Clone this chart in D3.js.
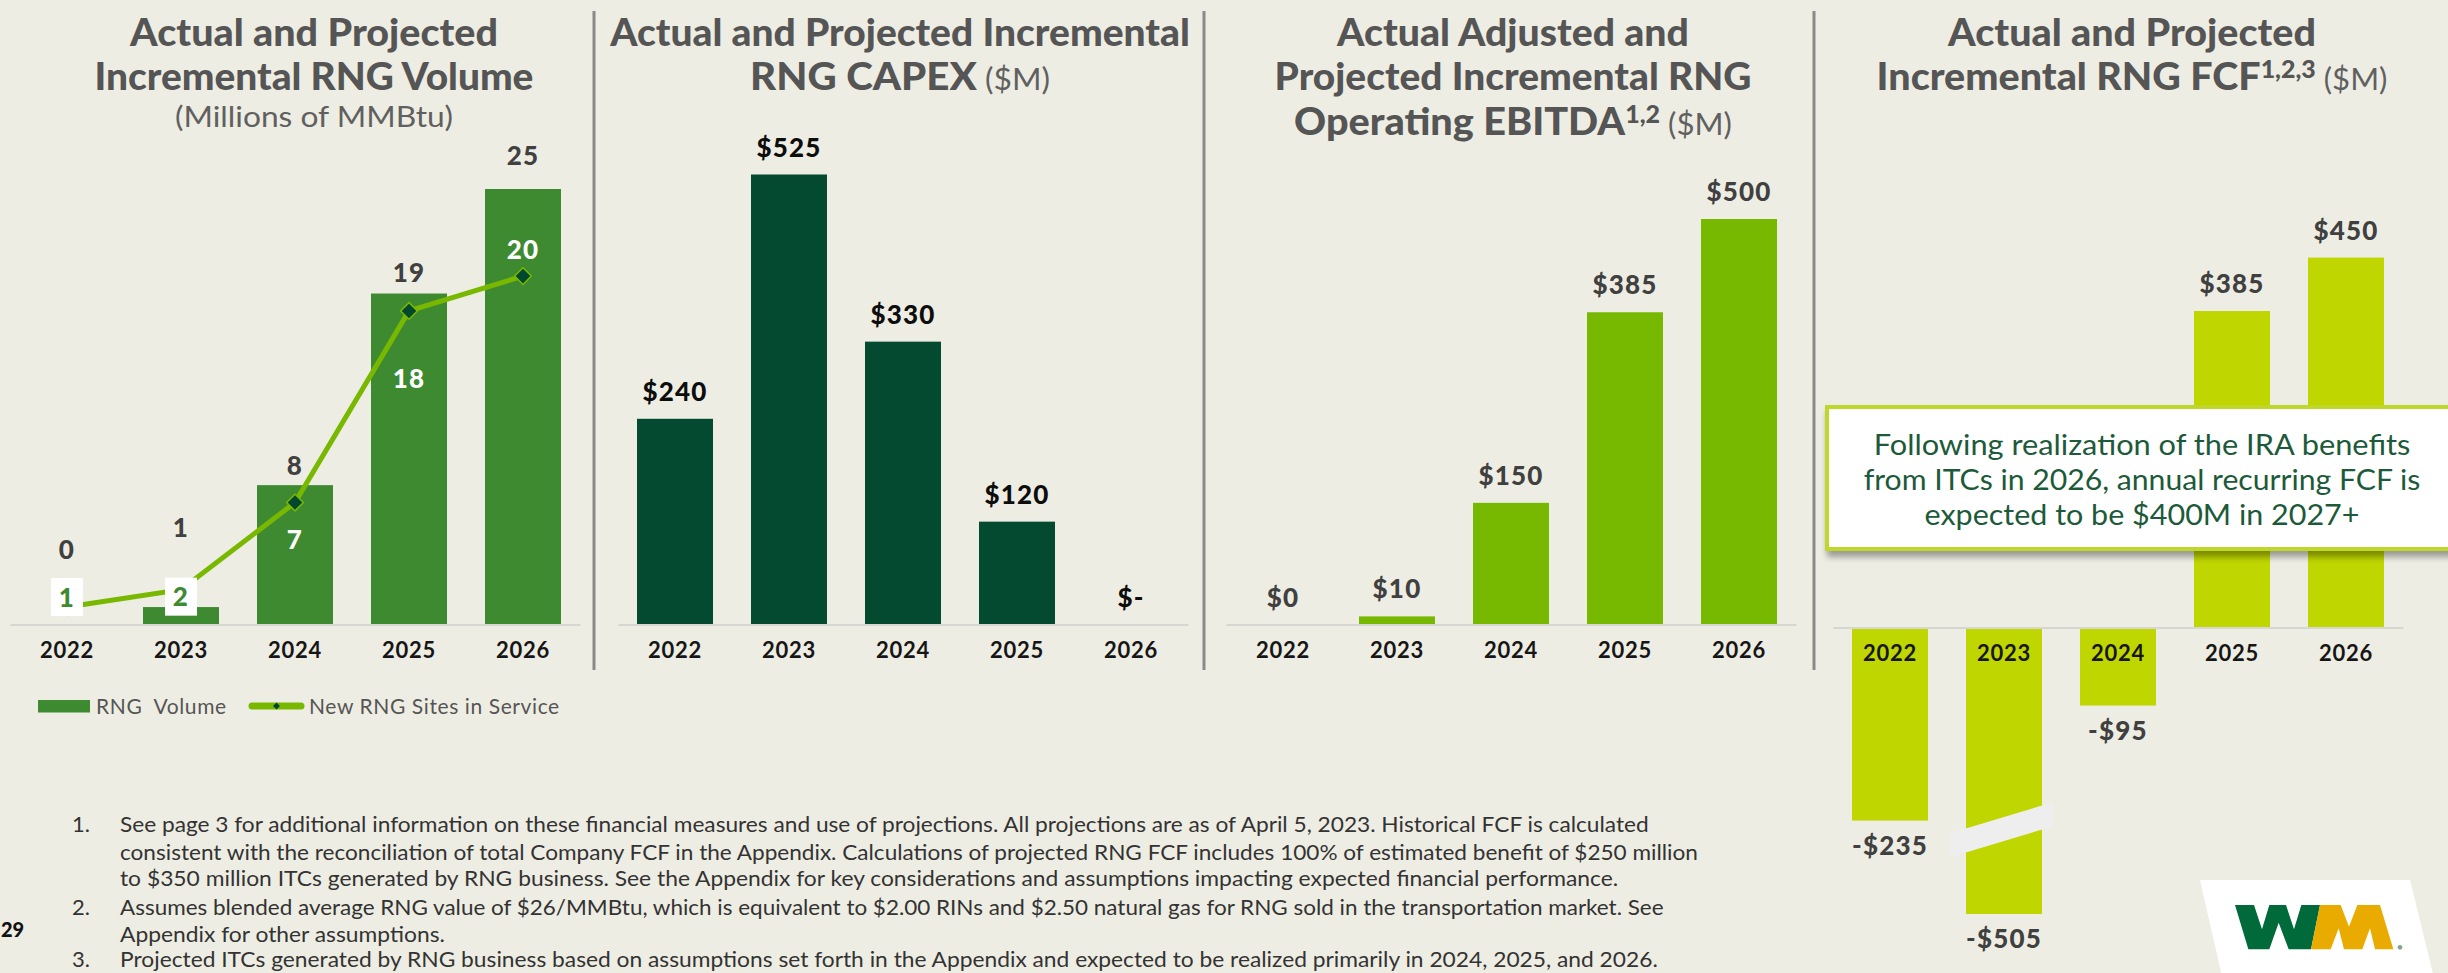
<!DOCTYPE html>
<html>
<head>
<meta charset="utf-8">
<script src="https://cdn.jsdelivr.net/npm/d3@7"></script>
<style>
  html, body { margin: 0; padding: 0; background: #eeede3; }
  svg { display: block; font-family: Lato, "Open Sans", sans-serif; }
</style>
</head>
<body>
<svg id="chart" width="2448" height="973"></svg>
<script>
// ---- data ----
const years = ['2022', '2023', '2024', '2025', '2026'];
const rngVolume = [0, 1, 8, 19, 25];        // millions of MMBtu
const newSites = [1, 2, 7, 18, 20];         // new RNG sites in service
const capex = [240, 525, 330, 120, 0];      // $M
const ebitda = [0, 10, 150, 385, 500];      // $M
const fcf = [-235, -505, -95, 385, 450];    // $M
const legendLabels = ['RNG  Volume', 'New RNG Sites in Service'];
const calloutLines = [
  'Following realization of the IRA benefits',
  'from ITCs in 2026, annual recurring FCF is',
  'expected to be $400M in 2027+'
];
const footnotes = [
  ['See page 3 for additional information on these financial measures and use of projections. All projections are as of April 5, 2023. Historical FCF is calculated',
   'consistent with the reconciliation of total Company FCF in the Appendix. Calculations of projected RNG FCF includes 100% of estimated benefit of $250 million',
   'to $350 million ITCs generated by RNG business. See the Appendix for key considerations and assumptions impacting expected financial performance.'],
  ['Assumes blended average RNG value of $26/MMBtu, which is equivalent to $2.00 RINs and $2.50 natural gas for RNG sold in the transportation market. See',
   'Appendix for other assumptions.'],
  ['Projected ITCs generated by RNG business based on assumptions set forth in the Appendix and expected to be realized primarily in 2024, 2025, and 2026.']
];

const svg = d3.select('#chart');
const defs = svg.append('defs');
const shadow = defs.append('filter').attr('id', 'shadow')
  .attr('x', '-5%').attr('y', '-10%').attr('width', '115%').attr('height', '140%');
shadow.append('feDropShadow').attr('dx', 2).attr('dy', 6).attr('stdDeviation', 3)
  .attr('flood-color', '#000').attr('flood-opacity', 0.35);

// squeeze / stretch a line of text to the width it has on the slide
function fit(g, text, x, y, w) {
  const bw = text.node().getBBox().width;
  g.attr('transform', `translate(${x},${y}) scale(${w / bw},1)`);
}

const money = v => (v < 0 ? '-$' : '$') + Math.abs(v);

// ---- panel titles ----
function drawTitle(cx, lines) {
  lines.forEach(l => {
    const g = svg.append('g');
    const t = g.append('text').attr('text-anchor', 'middle');
    let raised = false;
    l.parts.forEach(([kind, str]) => {
      const ts = t.append('tspan').text(str);
      if (kind === 'b') ts.attr('font-weight', 900).attr('font-size', 38).attr('fill', '#555555');
      if (kind === 'u') ts.attr('font-weight', 400).attr('font-size', l.unitSize || 30).attr('fill', '#606060');
      if (kind === 's') { ts.attr('font-weight', 900).attr('font-size', 24).attr('fill', '#555555').attr('dy', -12); raised = true; }
      else if (raised) { ts.attr('dy', 12); raised = false; }
    });
    t.selectAll('tspan').style('white-space', 'pre');
    fit(g, t, cx, l.y, l.w);
  });
}

drawTitle(314, [
  { y: 46, w: 369, parts: [['b', 'Actual and Projected']] },
  { y: 90, w: 439, parts: [['b', 'Incremental RNG Volume']] },
  { y: 127, w: 278, unitSize: 28, parts: [['u', '(Millions of MMBtu)']] }
]);
drawTitle(900, [
  { y: 46, w: 581, parts: [['b', 'Actual and Projected Incremental']] },
  { y: 90, w: 300, parts: [['b', 'RNG CAPEX'], ['u', ' ($M)']] }
]);
drawTitle(1513, [
  { y: 46, w: 353, parts: [['b', 'Actual Adjusted and']] },
  { y: 90, w: 477, parts: [['b', 'Projected Incremental RNG']] },
  { y: 135, w: 438, parts: [['b', 'Operating EBITDA'], ['s', '1,2'], ['u', ' ($M)']] }
]);
drawTitle(2132, [
  { y: 46, w: 369, parts: [['b', 'Actual and Projected']] },
  { y: 90, w: 511, parts: [['b', 'Incremental RNG FCF'], ['s', '1,2,3'], ['u', ' ($M)']] }
]);

// ---- panel separators ----
svg.append('g').selectAll('line').data([594, 1204, 1814]).join('line')
  .attr('x1', d => d).attr('x2', d => d).attr('y1', 11).attr('y2', 670)
  .attr('stroke', '#8a8a8a').attr('stroke-width', 3);

// ---- generic bar panel ----
function barPanel(o) {
  const x = d3.scaleBand().domain(years).range(o.xr).paddingInner(1 / 3).paddingOuter(1 / 6);
  const y = o.y;
  const g = svg.append('g');
  g.append('g').selectAll('rect').data(o.values).join('rect')
    .attr('x', (d, i) => x(years[i]))
    .attr('width', x.bandwidth())
    .attr('y', d => Math.min(y(d), y(0)))
    .attr('height', d => Math.abs(y(d) - y(0)))
    .attr('fill', o.color);

  const ax = g.append('g').attr('transform', `translate(0,${y(0)})`)
    .call(d3.axisBottom(x).tickSize(0).tickSizeOuter(0).tickPadding(18));
  ax.select('.domain').attr('stroke', '#d6d6d2').attr('stroke-width', 2);
  ax.selectAll('text').attr('font-family', 'Lato, sans-serif').attr('font-size', 22)
    .attr('font-weight', 700).attr('letter-spacing', 0.8).attr('fill', '#161616');

  if (o.label) {
    g.append('g').selectAll('text').data(o.values).join('text')
      .attr('x', (d, i) => x(years[i]) + x.bandwidth() / 2)
      .attr('y', d => d < 0 ? y(d) + 25 + 9 : y(d) - 27 + 9)
      .attr('text-anchor', 'middle').attr('font-size', 26).attr('font-weight', 900)
      .attr('letter-spacing', 1.2).attr('fill', o.labelColor)
      .text(o.label);
  }
  return { x, y, g };
}

// ---- panel 1: RNG volume + new sites ----
const volGap = [75, 79, 19, 21, 33];        // label lift above each bar
const siteDy = [-10, 7, 37, 68, -27];       // site label offset from line point
const p1 = barPanel({
  xr: [10, 580], values: rngVolume, color: '#3d8a31',
  y: d3.scaleLinear().domain([0, 25]).range([624.5, 189])
});
const cx1 = i => p1.x(years[i]) + p1.x.bandwidth() / 2;
p1.g.append('g').selectAll('text').data(rngVolume).join('text')
  .attr('x', (d, i) => cx1(i)).attr('y', (d, i) => p1.y(d) - volGap[i] + 9)
  .attr('text-anchor', 'middle').attr('font-size', 26).attr('font-weight', 900)
  .attr('letter-spacing', 1.2).attr('fill', '#404040').text(d => d);

const line = d3.line().x((d, i) => cx1(i)).y(d => p1.y(d));
p1.g.append('path').datum(newSites).attr('d', line)
  .attr('fill', 'none').attr('stroke', '#78b800').attr('stroke-width', 5);
p1.g.append('g').selectAll('path').data(newSites).join('path')
  .attr('d', d3.symbol(d3.symbolSquare, 140))
  .attr('transform', (d, i) => `translate(${cx1(i)},${p1.y(d)}) rotate(45)`)
  .attr('fill', '#02482f').attr('stroke', '#78b800').attr('stroke-width', 1.5);
const siteLab = p1.g.append('g').selectAll('g').data(newSites).join('g')
  .attr('transform', (d, i) => `translate(${cx1(i)},${p1.y(d) + siteDy[i]})`);
siteLab.filter((d, i) => d > rngVolume[i]).append('rect')
  .attr('x', -16).attr('y', -19).attr('width', 32).attr('height', 38).attr('fill', '#ffffff');
siteLab.append('text').attr('text-anchor', 'middle').attr('y', 9.5)
  .attr('font-size', 26).attr('font-weight', 900).attr('letter-spacing', 1.2)
  .attr('fill', (d, i) => d > rngVolume[i] ? '#3d8a31' : '#ffffff')
  .text(d => d);

// legend
const leg = svg.append('g').attr('font-size', 21).attr('fill', '#555555').attr('letter-spacing', 0.6);
leg.append('rect').attr('x', 38).attr('y', 700).attr('width', 52).attr('height', 12.5).attr('fill', '#3d8a31');
leg.append('text').attr('x', 96).attr('y', 713.5).style('white-space', 'pre').text(legendLabels[0]);
leg.append('line').attr('x1', 252).attr('x2', 301).attr('y1', 706).attr('y2', 706)
  .attr('stroke', '#78b800').attr('stroke-width', 7).attr('stroke-linecap', 'round');
leg.append('path').attr('d', d3.symbol(d3.symbolSquare, 24))
  .attr('transform', 'translate(276.5,706) rotate(45)').attr('fill', '#02482f');
leg.append('text').attr('x', 309).attr('y', 713.5).text(legendLabels[1]);

// ---- panel 2: CAPEX ----
barPanel({
  xr: [618, 1188], values: capex, color: '#034a31', labelColor: '#0d0d0d',
  label: d => d ? money(d) : '$-',
  y: d3.scaleLinear().domain([0, 525]).range([624.5, 174.5])
});

// ---- panel 3: EBITDA ----
barPanel({
  xr: [1226, 1796], values: ebitda, color: '#77b800', labelColor: '#404040',
  label: money,
  y: d3.scaleLinear().domain([0, 500]).range([624.5, 219])
});

// ---- panel 4: FCF with broken axis for 2023 ----
const breakAt = -260;
const p4 = barPanel({
  xr: [1833, 2403], values: fcf, color: '#bfd600', labelColor: '#404040',
  label: money,
  y: d3.scaleLinear().domain([-505, -235, 450]).range([914, 820.6, 257.6])
});
const bx = p4.x('2023') + p4.x.bandwidth() / 2, by = p4.y(breakAt);
p4.g.append('polygon')
  .attr('points', [[bx - 54, by + 4], [bx + 49, by - 27], [bx + 49, by - 3], [bx - 54, by + 28]].join(' '))
  .attr('fill', '#eeeeee');
p4.g.selectAll('.tick, .domain').raise();

// callout
const co = svg.append('g');
co.append('rect').attr('x', 1827).attr('y', 407).attr('width', 660).attr('height', 142)
  .attr('fill', '#ffffff').attr('stroke', '#bfd62a').attr('stroke-width', 4)
  .attr('filter', 'url(#shadow)');
const coW = [537, 557, 435];
calloutLines.forEach((s, i) => {
  const g = co.append('g');
  const t = g.append('text').attr('text-anchor', 'middle').attr('font-size', 28)
    .attr('fill', '#1c5a3a').text(s);
  fit(g, t, 2142, 455 + i * 35, coW[i]);
});

// ---- WM logo ----
const lx = v => 2180 + v / 3, ly = v => 860 + v / 3;
const pts = a => a.map(([a1, b1]) => [lx(a1), ly(b1)].join(',')).join(' ');
const logo = svg.append('g');
logo.append('polygon').attr('points', pts([[60, 60], [690, 60], [760, 345], [125, 345]])).attr('fill', '#ffffff');
logo.append('polygon').attr('fill', '#006a3b').attr('points', pts([
  [165, 135], [222, 135], [246, 208], [268, 135], [318, 135], [342, 208], [364, 135], [420, 135],
  [393, 268], [326, 268], [296, 188], [268, 268], [205, 268]]));
logo.append('polygon').attr('fill', '#eaab00').attr('points', pts([
  [393, 268], [420, 135], [482, 135], [507, 200], [532, 135], [600, 135], [640, 268],
  [585, 268], [570, 205], [547, 268], [492, 268], [476, 205], [452, 268]]));
logo.append('circle').attr('cx', lx(660)).attr('cy', ly(262)).attr('r', 2.3).attr('fill', '#7aa88a');

// ---- footnotes ----
const fnW = [[1530, 1579, 1499], [1545, 325], [1539]];
const fnY = [[832, 860, 886], [915, 942], [967]];
const fn = svg.append('g').attr('font-size', 22).attr('fill', '#333333');
footnotes.forEach((item, k) => {
  fn.append('text').attr('x', 72).attr('y', fnY[k][0]).text((k + 1) + '.');
  item.forEach((s, j) => {
    const g = fn.append('g');
    const t = g.append('text').text(s);
    fit(g, t, 120, fnY[k][j], fnW[k][j]);
  });
});
svg.append('text').attr('x', 1).attr('y', 937).attr('font-size', 20).attr('font-weight', 900)
  .attr('fill', '#111').text('29');
</script>
</body>
</html>
